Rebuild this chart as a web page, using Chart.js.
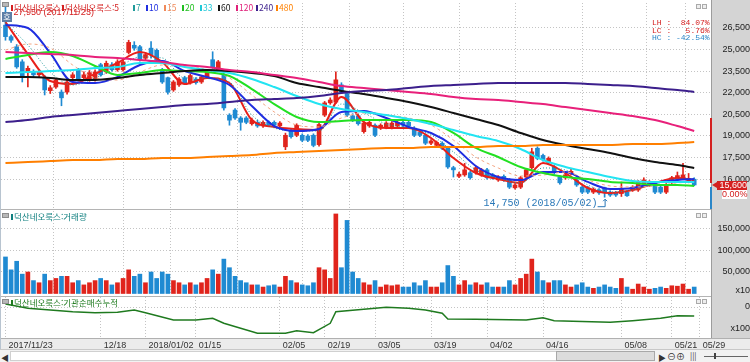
<!DOCTYPE html>
<html lang="ko">
<head>
<meta charset="utf-8">
<title>덕산네오룩스</title>
<script src="https://cdn.jsdelivr.net/npm/chart.js@4.4.1/dist/chart.umd.min.js"></script>
<style>
  html, body { margin: 0; padding: 0; }
  body { width: 750px; height: 362px; position: relative; overflow: hidden; background: #fff;
         font-family: "Noto Sans CJK KR", "Liberation Sans", sans-serif; }
  canvas { position: absolute; left: 0; }
  .abs { position: absolute; }
  #axisCol { left: 711px; top: 0; width: 39px; height: 338px; background: #d4d4d4; border-left: 1px solid #9c9c9c; box-sizing: border-box; }
  #dateRow { left: 0; top: 338px; width: 750px; height: 11px; background: #ececec; border-top: 1px solid #b0b0b0; box-sizing: border-box; }
  #scrollRow { left: 0; top: 349px; width: 750px; height: 13px; background: #f2f2f2; border-top: 1px solid #c8c8c8; box-sizing: border-box; }
  .sep { left: 0; width: 711px; height: 1px; background: #b4b4b4; }
  .lg { position: absolute; top: 2px; font-size: 8.5px; line-height: 10px; white-space: nowrap; }
  .lg i { display: inline-block; width: 2px; height: 6px; margin-right: 1px; vertical-align: -0px; }
  .ico { position: absolute; width: 7px; height: 5px; background: #b8b8b8; border: 1px solid #8c8c8c; box-sizing: border-box; }
  .btn { position: absolute; width: 5px; height: 5px; border: 1px solid #aaa; background: #eee; box-sizing: border-box; }
  #stats { left: 652px; top: 19px; font-family: "Liberation Mono", monospace; font-size: 8px; line-height: 7.5px; white-space: pre; }
</style>
</head>
<body>
<div id="axisCol" class="abs"></div>
<div id="dateRow" class="abs"></div>
<div id="scrollRow" class="abs">
  <div class="abs" style="left:1px;top:2px;font-size:8px;color:#333">◀</div>
  <div class="abs" style="left:10px;top:1px;width:645px;height:10px;background:#fff;border:1px solid #d0d0d0;box-sizing:border-box"></div>
  <div class="abs" style="left:556px;top:1px;width:99px;height:10px;background:#dcdcdc;border:1px solid #a8a8a8;box-sizing:border-box"></div>
  <div class="abs" style="left:658px;top:2px;font-size:8px;color:#333">▶</div>
  <div class="abs" style="left:667px;top:0px;font-size:9px;color:#333">⊖⊕</div>
  <div class="abs" style="left:690px;top:0px;font-size:8px;color:#333">|||</div>
  <div class="abs" style="left:704px;top:6px;width:44px;height:1px;background:#666"></div>
  <div class="abs" style="left:714px;top:3px;width:2px;height:6px;background:#444"></div>
</div>

<canvas id="priceChart" width="750" height="209" style="top:0"></canvas>
<canvas id="volChart" width="750" height="85" style="top:211px"></canvas>
<canvas id="instChart" width="750" height="52" style="top:297px"></canvas>

<div class="abs sep" style="top:209px"></div>
<div class="abs sep" style="top:296px"></div>
<div class="abs" style="left:0;top:0;width:1px;height:349px;background:#b8c4d0"></div>

<!-- panel titles / icons -->
<div class="ico" style="left:2px;top:2px"></div>
<div class="abs" style="left:2px;top:12px;width:10px;height:10px;background:#5d7fa6;color:#fff;font-size:8px;line-height:10px;text-align:center">호</div>
<div id="legend"></div>
<div class="ico" style="left:2px;top:213px"></div>
<div class="lg" style="left:11px;top:211px;color:#0f7f7f"><i style="background:#0f7f7f"></i>덕산네오룩스:거래량</div>
<div class="ico" style="left:2px;top:299px"></div>
<div class="lg" style="left:11px;top:297px;color:#1f7a1f"><i style="background:#1f7a1f"></i>덕산네오룩스:기관순매수누적</div>
<div class="btn" style="left:696px;top:4px"></div><div class="btn" style="left:702px;top:4px"></div>
<div class="btn" style="left:696px;top:213px"></div><div class="btn" style="left:702px;top:213px"></div>
<div class="btn" style="left:696px;top:299px"></div><div class="btn" style="left:702px;top:299px"></div>

<div id="stats" class="abs"><span style="color:#d42020">LH :  84.07%</span>
<span style="color:#d42020">LC :   5.76%</span>
<span style="color:#2a86c8">HC : -42.54%</span></div>

<!-- right side current price marker -->
<div class="abs" style="left:710px;top:118px;width:2px;height:65px;background:#d42020"></div>
<div class="abs" style="left:710px;top:187px;width:2px;height:22px;background:#2a86c8"></div>
<div class="abs" style="left:712px;top:182px;width:0;height:0;border-top:3px solid transparent;border-bottom:3px solid transparent;border-right:5px solid #d42020"></div>
<div id="lastPrice" class="abs" style="left:717px;top:181px;width:30px;height:9px;background:#d42020;color:#fff;font:9px 'Liberation Sans',sans-serif;line-height:9px;text-align:right"></div>
<div class="abs" style="left:722px;top:190px;width:25px;height:9px;background:#fff;color:#d42020;font:9px 'Liberation Sans',sans-serif;line-height:9px;text-align:right">0.00%</div>

<script>
// daily candles, 2017/11/23 .. 2018/05/28 (trading-day index 0..123)
const opens = [
  26700,25900,25200,24150,23400,23450,23250,23050,22150,22400,
  22050,22050,23050,23600,23050,22900,22900,23950,23450,23950,
  23600,23600,24800,25300,25200,24400,25100,24950,23600,23050,
  22200,22550,23050,22700,22950,22750,23100,24300,23600,23250,
  20450,20800,20250,20250,19850,19950,19700,19950,19950,19700,
  18250,19400,19050,19050,19000,19050,18400,20450,21300,21350,
  22550,21950,20400,20400,19300,19700,19750,19550,19600,19600,
  19700,19950,19950,19550,19250,19050,18500,18350,18500,18150,
  16800,16200,16300,16450,16450,16300,16650,16300,15950,16200,
  15950,15400,15450,16150,16800,18150,17650,17150,16850,16150,
  16100,16400,15950,15450,15400,15100,15250,15400,15100,15050,
  15000,15100,15250,15250,15650,15600,15600,15450,15100,15800,
  16000,16100,15850,16000];
const highs = [
  27950,26000,25350,24300,23850,23600,23600,23200,22500,23000,
  22200,22900,23400,23700,23450,23550,23600,24050,24200,24100,
  24300,24300,25650,25550,25300,24800,25550,25050,23700,23100,
  22850,23050,23150,23300,23050,23200,23550,24850,24250,23350,
  20550,20900,20350,20350,20250,20100,20050,20050,20050,20000,
  19200,19500,19850,19150,19100,19150,19900,21400,21650,23450,
  22700,22050,20550,20550,20000,20100,19850,19850,20000,20000,
  20100,20050,20050,19650,19350,19150,18750,18650,18600,18250,
  16900,16500,17100,16550,16900,16750,16750,16400,16250,16300,
  16050,15700,16200,16750,18150,18250,17750,17550,16950,16250,
  16400,16750,16050,15550,15500,15400,15350,15450,15200,15150,
  15800,15200,15550,15900,16100,15900,15700,15550,15700,16200,
  16500,17100,16400,16100];
const lows = [
  25650,25500,23700,22750,22400,23100,23100,21850,21950,22300,
  21100,21900,22950,22800,22950,22800,22800,23150,23350,23500,
  23500,23500,24700,24950,24200,24300,24400,24200,22650,21900,
  22100,22450,22600,22600,22600,22650,23000,23700,23500,20800,
  19750,20150,19400,19850,19750,19600,19600,19650,19650,19600,
  18050,18850,18950,18600,18600,18250,18300,20350,21200,21250,
  21950,20350,20000,19750,19200,19600,18950,19450,19500,19500,
  19600,19650,19600,18950,18950,18400,18400,18250,18050,16750,
  16150,16100,16200,16000,16350,16200,16000,16000,15850,15850,
  15350,15300,15350,16050,16700,17350,17250,17050,16350,15650,
  16000,16300,15500,15000,15000,15000,14950,14750,14800,14800,
  14800,14800,15150,15150,15550,15500,15000,15000,15000,15700,
  15900,16000,15750,15550];
const closes = [
  25900,25650,23800,23100,23700,23250,23450,22200,22350,22900,
  21650,22750,23250,22900,23250,23400,23450,23250,24050,23600,
  24150,24150,25500,25100,24300,24650,24650,24300,22750,22050,
  22750,22950,22700,23200,22700,23100,23450,23800,24150,20950,
  20100,20250,19950,19950,20100,19700,19950,19750,19750,19900,
  19050,18950,19750,18700,18700,18350,19800,21300,21500,22900,
  22050,20450,20100,19850,19900,19950,19050,19750,19900,19900,
  19950,19750,19700,19050,19050,18500,18650,18550,18150,16850,
  16650,16350,16650,16100,16800,16650,16100,16100,16150,15950,
  15450,15600,16100,16650,17900,17450,17350,17450,16450,15750,
  16300,16550,15600,15100,15100,15300,15050,15050,14900,14900,
  15300,14850,15450,15800,15950,15800,15100,15100,15600,16100,
  16250,16300,16050,15600];
// volume (x10 shares)
const volumes = [
  85000,55000,75000,45000,50000,30000,25000,45000,30000,35000,
  40000,40000,25000,30000,20000,25000,30000,35000,30000,20000,
  25000,35000,55000,40000,45000,25000,50000,35000,50000,45000,
  30000,25000,20000,25000,20000,25000,35000,55000,45000,80000,
  60000,40000,30000,25000,20000,20000,15000,18000,20000,15000,
  40000,30000,25000,20000,18000,25000,60000,55000,35000,185000,
  60000,170000,50000,35000,25000,20000,30000,15000,20000,18000,
  20000,15000,15000,25000,18000,30000,15000,15000,25000,65000,
  40000,20000,30000,20000,25000,20000,25000,15000,15000,15000,
  30000,20000,35000,45000,80000,50000,30000,25000,30000,30000,
  20000,15000,20000,25000,15000,12000,15000,20000,15000,12000,
  35000,15000,10000,22000,15000,10000,12000,15000,12000,18000,
  17000,22000,10000,15000];

// moving averages at these day indices
const maIdx = [0,4,8,12,16,20,24,28,32,36,40,44,48,52,56,60,64,68,72,76,80,84,88,92,96,100,104,108,112,116,120,123];
const ma5   = [26920,24690,22820,22610,23310,24070,24830,24140,22610,23030,22680,20110,19630,19490,19420,21710,19970,19560,19560,18860,17470,16430,16010,15740,17130,16430,15390,15040,15250,15740,16080,15940];
const ma7   = [26850,25320,23440,22540,23030,23720,24490,24420,23030,23030,22750,20460,19560,19350,19350,21220,20600,19830,19560,19070,17890,16640,16080,15740,16780,16640,15600,15110,15250,15670,16010,16010];
const ma10  = [26710,26500,24760,22750,22680,23100,23930,24210,23510,23100,22540,21080,19690,19350,19490,20670,20740,20250,19630,19210,18310,16920,16150,15940,16500,16500,15810,15320,15390,15740,15940,16010];
const ma15  = [24970,25390,25110,23930,23030,22890,23440,23930,23930,23580,23030,21850,20670,19760,19630,20250,20600,20460,20250,19760,18720,17540,16780,16220,16290,16500,15940,15530,15460,15530,15740,15810];
const ma20  = [24350,24630,24830,24560,23860,23240,23380,23580,23510,23440,23170,22260,21220,20320,19970,20040,20110,20110,20110,19970,19210,18170,17540,16850,16430,16150,16010,15810,15740,15600,15600,15530];
const ma33  = [23380,23440,23510,23580,23720,23790,24070,24070,23790,23580,23380,22960,22400,21780,21220,20880,20670,20460,20180,19830,19420,19000,18650,18100,17330,16850,16500,16150,15880,15810,15810,15810];
const ma60  = [23100,23100,23030,22890,22890,23030,23240,23380,23510,23580,23510,23380,23170,22680,22400,22130,21920,21640,21360,21010,20600,20180,19760,19210,18720,18380,18100,17820,17470,17190,16990,16780];
const ma120 = [24830,24760,24690,24630,24490,24420,24280,24140,23930,23790,23580,23440,23240,23030,22750,22470,22330,22190,22060,21920,21710,21570,21500,21360,21220,21010,20810,20600,20390,20110,19690,19350];
const ma240 = [19970,20110,20320,20460,20600,20740,20880,21010,21150,21220,21360,21500,21570,21640,21780,21990,22130,22190,22330,22470,22540,22610,22680,22680,22680,22680,22610,22540,22470,22330,22190,22060];
const ma480 = [17130,17190,17260,17330,17330,17400,17400,17470,17470,17540,17610,17680,17820,17890,17960,18030,18100,18170,18170,18240,18240,18240,18310,18310,18380,18380,18380,18380,18440,18440,18510,18580];

// institutional cumulative net buying (x100)
const instIdx = [0,4,8,12,16,20,23,25,30,34,37,39,42,45,50,52,55,58,59,64,68,72,75,78,79,84,93,96,98,108,112,117,120,123];
const instVal = [300,-130,-300,-470,-570,-530,-300,-570,-1300,-1300,-1130,-1630,-2130,-2630,-2630,-2370,-2570,-1630,-470,-230,-30,-130,-300,-630,-1200,-1230,-1300,-1070,-1370,-1530,-1370,-1130,-870,-900];

// x axis labels
const dateTickIdx  = [0, 17, 25, 34, 49, 57, 66, 76, 86, 96, 110, 119, 124];
const dateTickText = ['2017/11/23','12/18','2018/01/02','01/15','02/05','02/19','03/05','03/19','04/02','04/16','05/08','05/21','05/29'];
const priceTicks = [16000, 17500, 19000, 20500, 22000, 23500, 25000, 26500];
const volTicks = [8100, 50000, 100000, 150000];
const highDate = '2017/11/23';
const lowDate = '2018/05/02';

const RED = '#e0241c', BLUE = '#1f8ad2', GRID = '#c4c4c4';
const X_MIN = -0.8, X_MAX = 126;
const fmt = v => v.toLocaleString('en-US');
const upColor = i => closes[i] >= opens[i] ? RED : BLUE;

Chart.defaults.font.family = '"Liberation Sans", Arial, sans-serif';
Chart.defaults.font.size = 9;
Chart.defaults.color = '#222';
Chart.defaults.animation = false;
Chart.defaults.plugins.legend.display = false;
Chart.defaults.plugins.tooltip.enabled = false;

// legend on top of price pane
const legendItems = [
  ['덕산네오룩스:', '#d42020', 11], ['덕산네오룩스:5', '#d42020', 62], ['7', '#1f9a9a', 133],
  ['10', '#1f2ee0', 146], ['15', '#f08a5a', 164], ['20', '#22c022', 182], ['33', '#1fc8d8', 200],
  ['60', '#111', 218], ['120', '#e0207a', 236], ['240', '#3c1f8c', 256], ['480', '#ff8000', 276]];
document.getElementById('legend').innerHTML = legendItems.map(([t, c, x]) =>
  `<div class="lg" style="left:${x}px;color:${c}"><i style="background:${c}"></i>${t}</div>`).join('');
document.getElementById('lastPrice').textContent = fmt(closes[closes.length - 1]);

function xAxis(showLabels) {
  return {
    type: 'linear', min: X_MIN, max: X_MAX, offset: false,
    afterBuildTicks: s => { s.ticks = dateTickIdx.map(v => ({ value: v })); },
    afterFit: s => { s.paddingLeft = 0; s.paddingRight = 0; s.height = showLabels ? 11 : 0; },
    grid: { color: GRID, drawTicks: false },
    border: { display: false, dash: [1, 2] },
    ticks: showLabels
      ? { autoSkip: false, maxRotation: 0, align: 'start', labelOffset: 3, padding: 2, color: '#333',
          callback: (v, i) => dateTickText[i] }
      : { display: false }
  };
}

function yAxis(min, max, ticks, label, pad, gridColor) {
  return {
    position: 'right', min, max,
    afterBuildTicks: s => { s.ticks = ticks.map(v => ({ value: v })); },
    afterFit: s => { s.width = 39; s.paddingTop = 0; s.paddingBottom = 0; },
    grid: { color: gridColor || GRID, drawTicks: false },
    border: { display: false, dash: [1, 2] },
    ticks: { crossAlign: 'far', padding: pad, color: '#222', callback: label }
  };
}

const maLine = (vals, color, width, dash) => ({
  type: 'line', data: vals.map((v, k) => ({ x: maIdx[k], y: v })),
  borderColor: color, borderWidth: width, borderDash: dash || [], pointRadius: 0,
  cubicInterpolationMode: 'monotone', order: 0
});

// high / low annotations
const extremes = {
  id: 'extremes',
  afterDatasetsDraw(chart) {
    const { ctx, scales: { x, y } } = chart;
    const hi = Math.max(...highs), hiI = highs.indexOf(hi);
    const lo = Math.min(...lows), loI = lows.indexOf(lo);
    ctx.save();
    ctx.textBaseline = 'middle';
    ctx.font = '9px "Liberation Sans", Arial';
    ctx.fillStyle = '#d42020';
    ctx.fillText(`${fmt(hi)} (${highDate})`, x.getPixelForValue(hiI) + 8, y.getPixelForValue(hi) + 5);
    const lx = x.getPixelForValue(loI), ly = y.getPixelForValue(lo);
    ctx.font = '10px "Liberation Mono", monospace';
    ctx.fillStyle = '#2a78b8';
    ctx.textAlign = 'right';
    ctx.fillText(`${fmt(lo)} (${lowDate})`, lx - 7, ly + 6);
    ctx.strokeStyle = '#2a78b8';
    ctx.lineWidth = 1;
    ctx.beginPath();
    ctx.moveTo(lx - 7, ly + 9.5); ctx.lineTo(lx + 0.5, ly + 9.5); ctx.lineTo(lx + 0.5, ly + 2);
    ctx.moveTo(lx - 1.5, ly + 4); ctx.lineTo(lx + 0.5, ly + 2); ctx.lineTo(lx + 2.5, ly + 4);
    ctx.stroke();
    ctx.restore();
  }
};

new Chart(document.getElementById('priceChart'), {
  type: 'bar',
  data: {
    datasets: [
      maLine(ma480, '#ff7f00', 2),
      maLine(ma240, '#3c1f8c', 2),
      maLine(ma120, '#e8207a', 2),
      maLine(ma60, '#111111', 2),
      maLine(ma33, '#22e4f2', 2),
      maLine(ma20, '#22e022', 2),
      maLine(ma15, '#f4a582', 1, [3, 3]),
      maLine(ma10, '#1f2ee0', 2),
      maLine(ma7, '#1f9a9a', 1, [1, 2]),
      maLine(ma5, '#e8201a', 2),
      { type: 'bar', data: lows.map((l, i) => ({ x: i, y: [l, highs[i]] })),
        backgroundColor: c => upColor(c.dataIndex), barThickness: 1, grouped: false, order: 2 },
      { type: 'bar', data: opens.map((o, i) => ({ x: i, y: [o, closes[i]] })),
        backgroundColor: c => upColor(c.dataIndex), barThickness: 4, minBarLength: 1, grouped: false, order: 1 }
    ]
  },
  options: {
    responsive: false, devicePixelRatio: 1,
    layout: { padding: { left: 1, top: 3, right: 0, bottom: 1 } },
    scales: {
      x: xAxis(false),
      y: yAxis(14000, 28236, priceTicks, v => fmt(v), 8.5)
    }
  },
  plugins: [extremes]
});

new Chart(document.getElementById('volChart'), {
  type: 'bar',
  data: {
    datasets: [{
      data: volumes.map((v, i) => ({ x: i, y: v })),
      backgroundColor: c => upColor(c.dataIndex), barThickness: 4, grouped: false
    }]
  },
  options: {
    responsive: false, devicePixelRatio: 1,
    layout: { padding: { left: 1, top: 0, right: 0, bottom: 1 } },
    scales: {
      x: xAxis(false),
      y: yAxis(-3490, 191860, volTicks, v => v === 8100 ? 'x10' : fmt(v), 3.5,
               c => (c.tick && c.tick.value === 8100) ? 'rgba(0,0,0,0)' : GRID)
    }
  }
});

new Chart(document.getElementById('instChart'), {
  type: 'line',
  data: {
    datasets: [{
      data: instVal.map((v, k) => ({ x: instIdx[k], y: v })),
      borderColor: '#1f7a1f', borderWidth: 1.5, pointRadius: 0, tension: 0
    }]
  },
  options: {
    responsive: false, devicePixelRatio: 1,
    layout: { padding: { left: 1, top: 0, right: 0, bottom: 0 } },
    scales: {
      x: xAxis(true),
      y: yAxis(-3100, 1000, [0, -2200], v => v === 0 ? '0' : 'x100', 16.5,
               c => (c.tick && c.tick.value === 0) ? GRID : 'rgba(0,0,0,0)')
    }
  }
});
</script>
</body>
</html>
